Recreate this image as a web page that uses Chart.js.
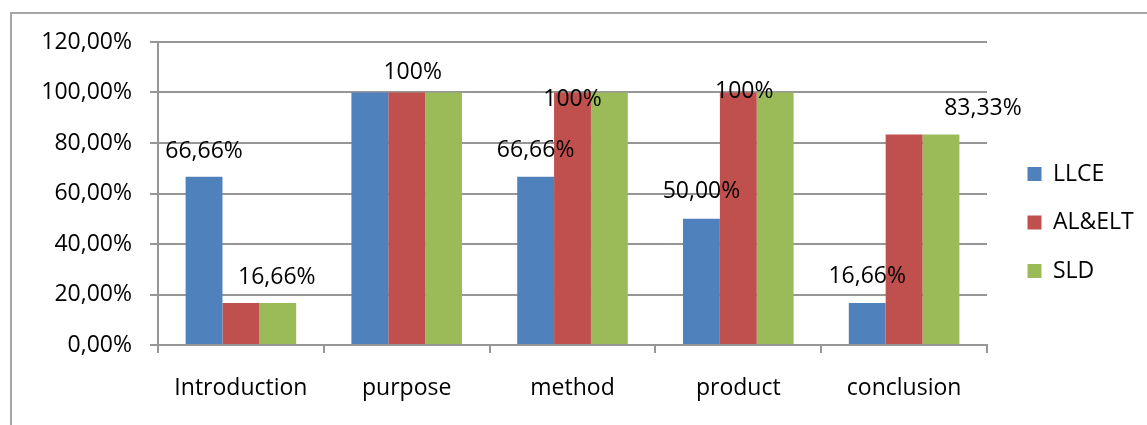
<!DOCTYPE html>
<html>
<head>
<meta charset="utf-8">
<script src="https://cdn.jsdelivr.net/npm/chart.js@4/dist/chart.umd.min.js"></script>
<style>
  html, body { margin: 0; padding: 0; background: #fff; overflow: hidden; }
  #wrap { position: relative; width: 1147px; height: 425px; }
  #frame { position: absolute; left: 10px; top: 12px; width: 1200px; height: 500px;
           border-left: 2px solid #A6A6A6; border-top: 2px solid #A6A6A6; }
  #chart { position: absolute; left: 0; top: 0; }
</style>
</head>
<body>
<div id="wrap">
  <div id="frame"></div>
  <canvas id="chart" width="1147" height="425"></canvas>
</div>
<script>
// ---- data ----
const categories = ['Introduction', 'purpose', 'method', 'product', 'conclusion'];
const seriesNames = ['LLCE', 'AL&ELT', 'SLD'];
const llce   = [66.66, 100, 66.66, 50, 16.66];
const alelt  = [16.66, 100, 100, 100, 83.33];
const sld    = [16.66, 100, 100, 100, 83.33];
const yTickValues = [0, 20, 40, 60, 80, 100, 120];
// annotation texts attached to bars: [datasetIndex, categoryIndex, text]
const valueLabels = [
  [0, 0, '66,66%'],
  [2, 0, '16,66%'],
  [1, 1, '100%'],
  [0, 2, '66,66%'],
  [1, 2, '100%'],
  [0, 3, '50,00%'],
  [1, 3, '100%'],
  [0, 4, '16,66%'],
  [2, 4, '83,33%']
];

// ---- styles ----
const colors = ['#4F81BD', '#C0504D', '#9BBB59'];
const labelOffsets = [[0,-26.5],[-1,-26.5],[6,-22],[0,-27.5],[0,5.5],[0,-28.5],[6,-2.5],[0,-27.5],[42,-28]];
const gridColor = '#969696';
const FONT = "'Open Sans', sans-serif";
const LEGEND_DX = 15;
const LEGEND_DY = -11;

Chart.defaults.font.family = FONT;
Chart.defaults.font.size = 23;
Chart.defaults.color = '#000';

const legendTweak = {
  id: 'legendTweak',
  beforeInit(chart) {
    const origFit = chart.legend.fit;
    chart.legend.fit = function () {
      origFit.call(this);
      this.width = 160;
    };
  },
  afterLayout(chart) {
    const lg = chart.legend;
    lg.left += LEGEND_DX; lg.right += LEGEND_DX;
    lg.top += LEGEND_DY; lg.bottom += LEGEND_DY;
  }
};

const barLabels = {
  id: 'barLabels',
  afterDatasetsDraw(chart) {
    const ctx = chart.ctx;
    ctx.save();
    ctx.font = '23px ' + FONT;
    ctx.fillStyle = '#000';
    ctx.textAlign = 'center';
    ctx.textBaseline = 'alphabetic';
    valueLabels.forEach((lab, k) => {
      const el = chart.getDatasetMeta(lab[0]).data[lab[1]];
      const off = labelOffsets[k];
      ctx.fillText(lab[2], el.x + off[0], el.y + off[1] + 8);
    });
    ctx.restore();
  }
};

const datasets = [llce, alelt, sld].map((d, i) => ({
  label: seriesNames[i],
  data: d,
  backgroundColor: colors[i],
  borderWidth: 0,
  barPercentage: 1.0,
  categoryPercentage: 0.667
}));

new Chart(document.getElementById('chart'), {
  type: 'bar',
  data: { labels: categories, datasets },
  plugins: [legendTweak, barLabels],
  options: {
    responsive: false,
    animation: false,
    events: [],
    layout: { padding: { left: 10, top: 42, right: 0, bottom: 0 } },
    plugins: {
      tooltip: { enabled: false },
      legend: {
        position: 'right',
        align: 'center',
        labels: {
          boxWidth: 14, boxHeight: 14, padding: 25.5,
          font: { size: 23, family: FONT }, color: '#000'
        }
      }
    },
    scales: {
      x: {
        afterFit(s) { s.height = 80; },
        grid: { display: true, drawOnChartArea: false, drawTicks: true, tickLength: 8,
                color: gridColor, lineWidth: 2, offset: true },
        border: { display: true, color: gridColor, width: 2 },
        ticks: { padding: 22, font: { size: 23 }, color: '#000' }
      },
      y: {
        min: 0, max: 120,
        afterFit(s) { s.width = 148; },
        afterBuildTicks(s) { s.ticks = yTickValues.map(v => ({ value: v })); },
        grid: { color: gridColor, lineWidth: 2, tickLength: 8, drawTicks: true },
        border: { display: true, color: gridColor, width: 2 },
        ticks: {
          padding: 18, font: { size: 23 }, color: '#000',
          callback: v => v.toFixed(2).replace('.', ',') + '%'
        }
      }
    }
  }
});
</script>
</body>
</html>
